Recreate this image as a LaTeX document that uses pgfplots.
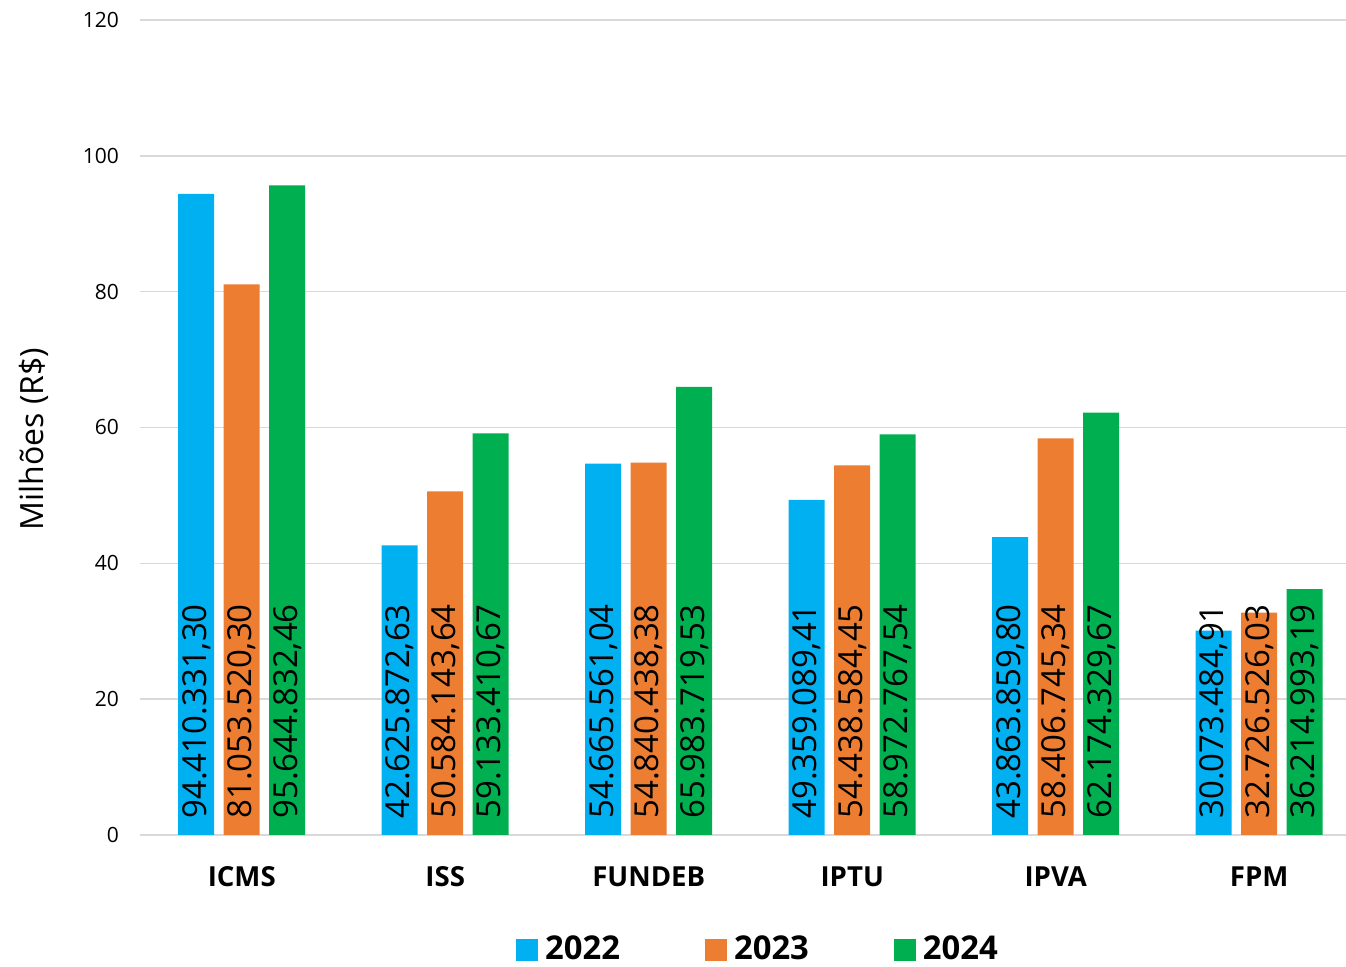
\documentclass[border=0pt]{standalone}
\usepackage{pgfplots}
\pgfplotsset{compat=1.18}
\usepackage{pgfplotstable}
\usepackage{fontspec}
\setmainfont{Open Sans}
\definecolor{c22}{HTML}{00B0F0}
\definecolor{c23}{HTML}{ED7D31}
\definecolor{c24}{HTML}{00B050}
\definecolor{gridc}{HTML}{D9D9D9}

\pgfplotstableread{
x y label
0 94.410331 94.410.331,30
1 42.625872 42.625.872,63
2 54.665561 54.665.561,04
3 49.359089 49.359.089,41
4 43.863859 43.863.859,80
5 30.073484 30.073.484,91
}\tA
\pgfplotstableread{
x y label
0 81.053520 81.053.520,30
1 50.584143 50.584.143,64
2 54.840438 54.840.438,38
3 54.438584 54.438.584,45
4 58.406745 58.406.745,34
5 32.726526 32.726.526,03
}\tB
\pgfplotstableread{
x y label
0 95.644832 95.644.832,46
1 59.133410 59.133.410,67
2 65.983719 65.983.719,53
3 58.972767 58.972.767,54
4 62.174329 62.174.329,67
5 36.214993 36.214.993,19
}\tC

\begin{document}
\begin{tikzpicture}
\useasboundingbox (-70pt,-66pt) rectangle (603pt,417.5pt);
\begin{axis}[
  at={(0,0)}, anchor=south west,
  scale only axis, width=610.5pt, height=407.5pt,
  ybar, bar width=18pt,
  xmin=-0.5, xmax=5.5, ymin=0, ymax=120,
  xtick={0,...,5},
  xticklabels={ICMS,ISS,FUNDEB,IPTU,IPVA,FPM},
  ytick={0,20,...,120},
  ymajorgrids, grid style={gridc, line width=0.8pt},
  axis line style={draw=none},
  tick style={draw=none},
  /pgf/number format/assume math mode=true,
  yticklabel style={font=\fontsize{10.5}{12}\selectfont, xshift=-7pt},
  xticklabel style={font=\fontsize{13.8}{15}\selectfont\bfseries, yshift=-8pt},
  ylabel={Milhões (R\$)},
  every axis y label/.style={at={(axis description cs:0,0.486)}, xshift=-53pt, rotate=90, anchor=center, font=\fontsize{16}{18}\selectfont},
  point meta=explicit symbolic,
  nodes near coords,
  visualization depends on={rawy \as \rawy},
  every node near coord/.append style={shift={(axis direction cs:0,-\rawy)}, yshift=8pt, rotate=90, anchor=west, inner sep=0pt, font=\fontsize{16.5}{18}\selectfont, text=black},
  legend style={at={(axis description cs:0.5,0)}, anchor=center, yshift=-57.3pt, xshift=4.25pt, draw=none, fill=none,
    legend columns=3, font=\fontsize{16.4}{18}\selectfont\bfseries,
    /tikz/every even column/.append style={column sep=40.5pt}},
  legend image code/.code={\fill[#1] (1pt,-5.5pt) rectangle (12pt,5.5pt); \path (13.5pt,0pt);},
  clip=false,
]
\addplot[fill=c22, draw=none, bar shift=-22.75pt] table[x=x, y=y, meta=label] {\tA};
\addplot[fill=c23, draw=none, bar shift=0pt] table[x=x, y=y, meta=label] {\tB};
\addplot[fill=c24, draw=none, bar shift=22.75pt] table[x=x, y=y, meta=label] {\tC};
\legend{2022,2023,2024}
\end{axis}
\end{tikzpicture}
\end{document}
